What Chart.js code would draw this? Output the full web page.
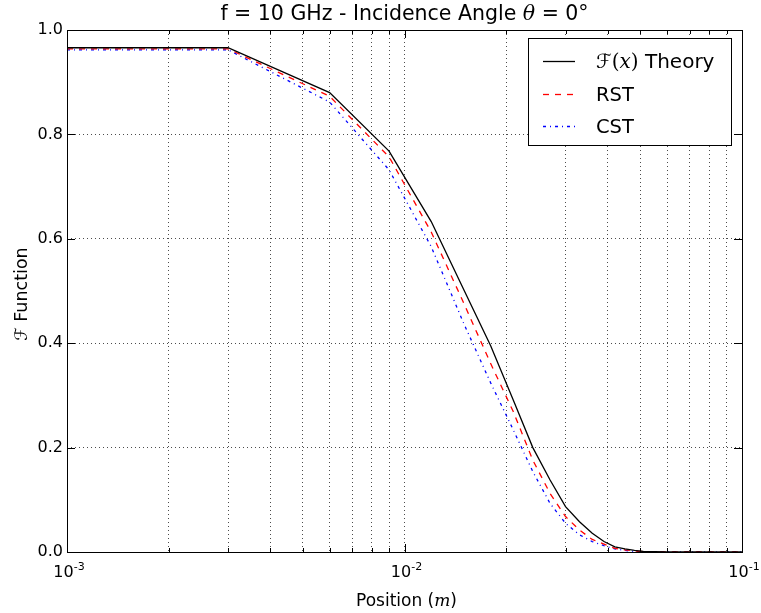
<!DOCTYPE html>
<html>
<head>
<meta charset="utf-8">
<script src="https://cdn.jsdelivr.net/npm/chart.js@4/dist/chart.umd.min.js"></script>
<style>
  html, body { margin: 0; padding: 0; background: #fff; }
  #wrap { width: 761px; height: 613px; }
</style>
</head>
<body>
<div id="wrap"><canvas id="c" width="761" height="613"></canvas></div>
<script>
// Position along the surface (m)
const positions = [0.001, 0.003, 0.006, 0.009, 0.012, 0.015, 0.018, 0.021, 0.024, 0.027,
                   0.030, 0.033, 0.036, 0.039, 0.042, 0.045, 0.048, 0.051,
                   0.060, 0.070, 0.080, 0.090, 0.100];
// F(x) theory
const theory = [0.966, 0.966, 0.880, 0.768, 0.633, 0.502, 0.395, 0.291, 0.200, 0.138,
                0.087, 0.058, 0.036, 0.020, 0.010, 0.006, 0.003, 0.001,
                0, 0, 0, 0, 0];
// RST result
const rst = [0.964, 0.964, 0.873, 0.757, 0.613, 0.476, 0.361, 0.269, 0.176, 0.112,
             0.068, 0.042, 0.024, 0.015, 0.007, 0.004, 0.002, 0.001,
             0, 0, 0, 0, 0];
// CST result
const cst = [0.962, 0.962, 0.862, 0.732, 0.585, 0.437, 0.324, 0.234, 0.154, 0.093,
             0.055, 0.033, 0.020, 0.012, 0.006, 0.003, 0.001, 0.0005,
             0, 0, 0, 0, 0];
// Axis ticks
const xMajorTicks = [0.001, 0.01, 0.1];
const xMinorTicks = [0.002, 0.003, 0.004, 0.005, 0.006, 0.007, 0.008, 0.009,
                     0.02, 0.03, 0.04, 0.05, 0.06, 0.07, 0.08, 0.09];
const xTickExponents = ['-3', '-2', '-1'];
const yTicks = [0, 0.2, 0.4, 0.6, 0.8, 1.0];

const SANS = '"DejaVu Sans", sans-serif';
const SERIF = '"DejaVu Serif", serif';

function pts(vals) { return positions.map((x, i) => ({ x: x, y: vals[i] })); }

// Draw a run of text pieces with individual fonts (and optional vertical shift)
function richText(ctx, parts, x, y, align) {
  let total = 0;
  parts.forEach(p => { ctx.font = p.f; p.w = ctx.measureText(p.t).width; total += p.w; });
  let cx = align === 'center' ? x - total / 2 : (align === 'right' ? x - total : x);
  ctx.textAlign = 'left';
  parts.forEach(p => { ctx.font = p.f; ctx.fillText(p.t, cx, y + (p.dy || 0)); cx += p.w; });
}

const decor = {
  id: 'decor',
  afterDraw(chart) {
    const ctx = chart.ctx;
    const a = chart.chartArea;
    const xs = chart.scales.x, ys = chart.scales.y;
    ctx.save();
    ctx.fillStyle = '#000';
    ctx.strokeStyle = '#000';
    ctx.textBaseline = 'alphabetic';

    // inward tick marks on all four sides
    ctx.lineWidth = 1;
    ctx.beginPath();
    xMajorTicks.forEach(v => {
      const px = Math.round(xs.getPixelForValue(v)) + 0.5;
      ctx.moveTo(px, a.bottom); ctx.lineTo(px, a.bottom - 8);
      ctx.moveTo(px, a.top); ctx.lineTo(px, a.top + 8);
    });
    xMinorTicks.forEach(v => {
      const px = Math.round(xs.getPixelForValue(v)) + 0.5;
      ctx.moveTo(px, a.bottom); ctx.lineTo(px, a.bottom - 4);
      ctx.moveTo(px, a.top); ctx.lineTo(px, a.top + 4);
    });
    yTicks.forEach(v => {
      const py = Math.round(ys.getPixelForValue(v)) + 0.5;
      ctx.moveTo(a.left, py); ctx.lineTo(a.left + 8, py);
      ctx.moveTo(a.right, py); ctx.lineTo(a.right - 8, py);
    });
    ctx.stroke();

    // frame
    ctx.strokeRect(Math.round(a.left) + 0.5, Math.round(a.top) + 0.5,
                   Math.round(a.right - a.left), Math.round(a.bottom - a.top));

    // x tick labels: powers of ten
    xMajorTicks.forEach((v, i) => {
      richText(ctx, [
        { t: '10', f: '16px ' + SANS },
        { t: xTickExponents[i], f: '11px ' + SANS, dy: -7 }
      ], xs.getPixelForValue(v) + 2, a.bottom + 25, 'center');
    });

    // title
    richText(ctx, [
      { t: 'f = 10 GHz - Incidence Angle ', f: '20.5px ' + SANS },
      { t: '\u03B8', f: 'italic 20.5px ' + SERIF },
      { t: ' = 0\u00B0', f: '20.5px ' + SANS }
    ], (a.left + a.right) / 2, 20, 'center');

    // x axis title
    richText(ctx, [
      { t: 'Position (', f: '17px ' + SANS },
      { t: 'm', f: 'italic 17px ' + SERIF },
      { t: ')', f: '17px ' + SANS }
    ], (a.left + a.right) / 2 + 2, 606, 'center');

    // y axis title
    ctx.save();
    ctx.translate(27, (a.top + a.bottom) / 2 + 3);
    ctx.rotate(-Math.PI / 2);
    richText(ctx, [
      { t: '\u2131', f: '17px ' + SANS },
      { t: ' Function', f: '17.5px ' + SANS }
    ], 0, 0, 'center');
    ctx.restore();

    // legend
    const lx = 528, ly = 38, lw = 203, lh = 107;
    ctx.fillStyle = '#fff';
    ctx.fillRect(lx, ly, lw, lh);
    ctx.strokeStyle = '#000';
    ctx.lineWidth = 1;
    ctx.strokeRect(lx + 0.5, ly + 0.5, lw, lh);
    const rows = [
      { ds: chart.data.datasets[0], y: 61, parts: [
        { t: '\u2131', f: '20px ' + SANS },
        { t: '(', f: '20px ' + SERIF },
        { t: 'x', f: 'italic 20px ' + SERIF },
        { t: ')', f: '20px ' + SERIF },
        { t: ' Theory', f: '20px ' + SANS }] },
      { ds: chart.data.datasets[1], y: 94, parts: [{ t: 'RST', f: '19.5px ' + SANS }] },
      { ds: chart.data.datasets[2], y: 126, parts: [{ t: 'CST', f: '19.5px ' + SANS }] }
    ];
    rows.forEach(r => {
      ctx.strokeStyle = r.ds.borderColor;
      ctx.lineWidth = r.ds.borderWidth;
      ctx.setLineDash(r.ds.borderDash || []);
      ctx.beginPath();
      ctx.moveTo(543, r.y + 0.5); ctx.lineTo(575, r.y + 0.5);
      ctx.stroke();
      ctx.setLineDash([]);
      ctx.fillStyle = '#000';
      richText(ctx, r.parts, 596, r.y + 7, 'left');
    });
    ctx.restore();
  }
};

new Chart(document.getElementById('c'), {
  type: 'line',
  data: {
    datasets: [
      { label: 'F(x) Theory', data: pts(theory), borderColor: '#000000', borderWidth: 1.3,
        pointRadius: 0, tension: 0, fill: false },
      { label: 'RST', data: pts(rst), borderColor: '#ff0000', borderWidth: 1.3,
        borderDash: [6, 6], pointRadius: 0, tension: 0, fill: false },
      { label: 'CST', data: pts(cst), borderColor: '#0000ff', borderWidth: 1.3,
        borderDash: [3, 4, 1, 4], pointRadius: 0, tension: 0, fill: false }
    ]
  },
  options: {
    responsive: false,
    animation: false,
    layout: { padding: { top: 30, right: 19, left: 0, bottom: 0 } },
    plugins: { legend: { display: false }, title: { display: false }, tooltip: { enabled: false } },
    scales: {
      x: {
        type: 'logarithmic',
        min: 0.001, max: 0.1,
        afterBuildTicks(scale) {
          scale.ticks = xMajorTicks.concat(xMinorTicks).sort((p, q) => p - q).map(v => ({ value: v }));
        },
        afterFit(scale) { scale.height = 61; scale.paddingLeft = 0; scale.paddingRight = 0; },
        ticks: { display: false, autoSkip: false, maxRotation: 0, minRotation: 0 },
        grid: { color: 'rgba(0,0,0,0.7)', lineWidth: 1, drawTicks: false },
        border: { display: false, dash: [1, 3] }
      },
      y: {
        min: 0, max: 1,
        afterBuildTicks(scale) { scale.ticks = yTicks.map(v => ({ value: v })); },
        afterFit(scale) { scale.width = 67; scale.paddingTop = 0; scale.paddingBottom = 0; },
        ticks: {
          padding: 4, color: '#000', font: { family: SANS, size: 16 },
          callback(v) { return Number(v).toFixed(1); }
        },
        grid: { color: 'rgba(0,0,0,0.7)', lineWidth: 1, drawTicks: false },
        border: { display: false, dash: [1, 3] }
      }
    }
  },
  plugins: [decor]
});
</script>
</body>
</html>
